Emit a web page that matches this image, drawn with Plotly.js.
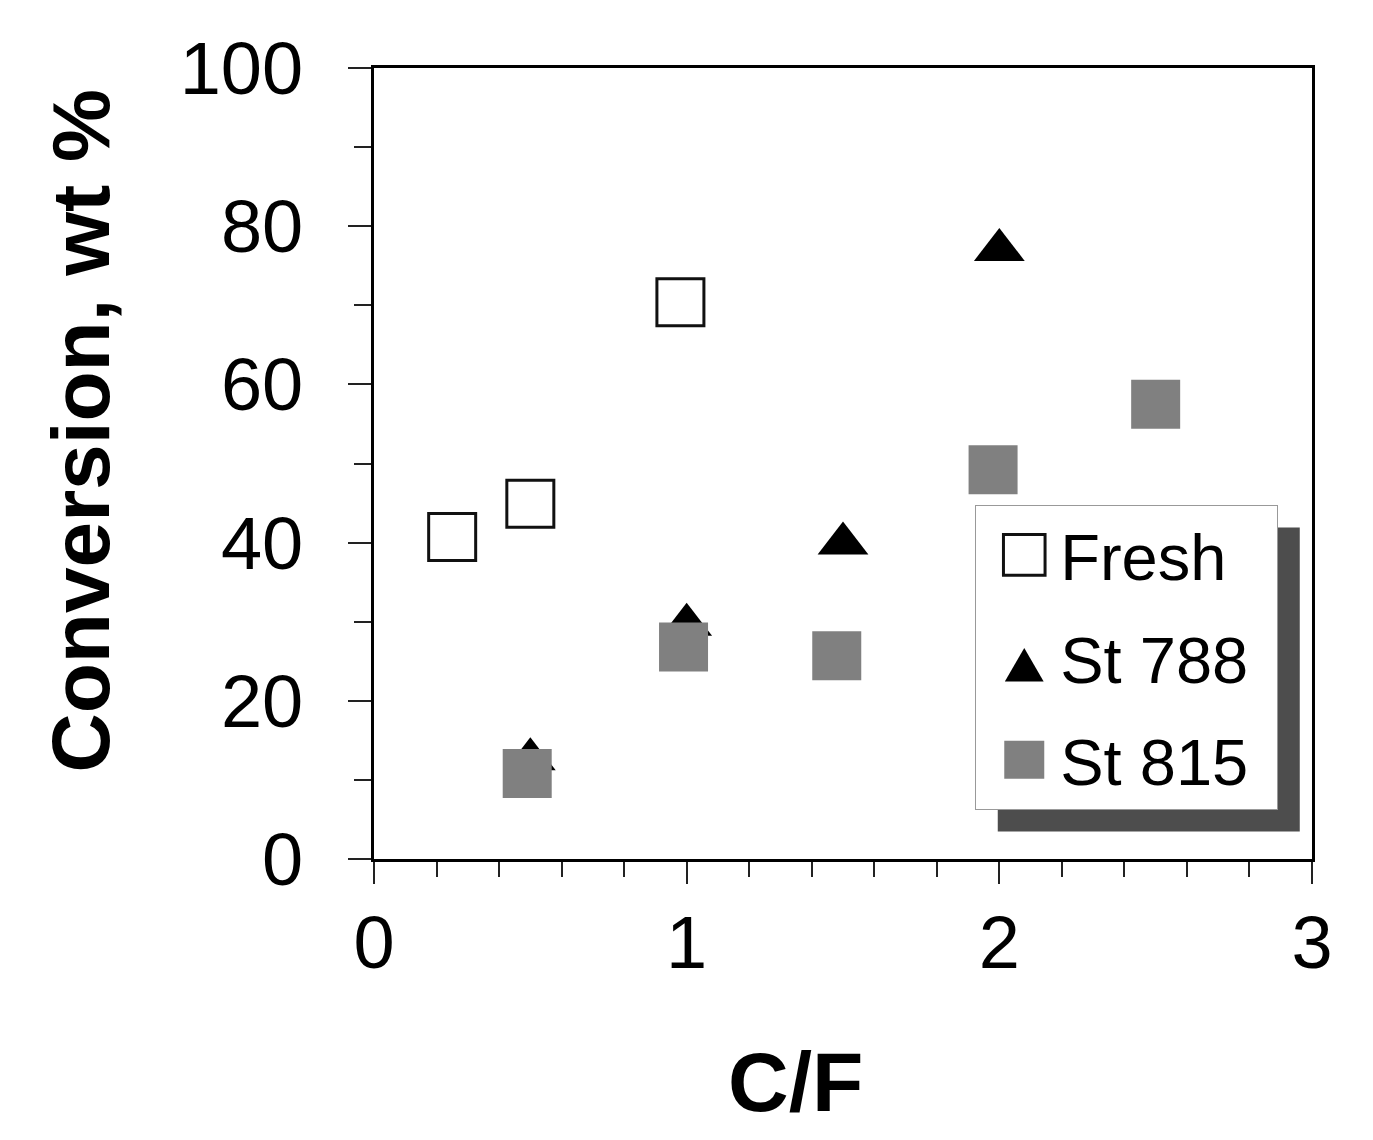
<!DOCTYPE html>
<html>
<head>
<meta charset="utf-8">
<script src="https://cdn.plot.ly/plotly-3.0.1.min.js"></script>
<style>
  html, body { margin: 0; padding: 0; background: #fff; }
  #chart { width: 1373px; height: 1140px; }
</style>
</head>
<body>
<div id="chart"></div>
<script>
// values (C/F ratio vs conversion, wt %)
const cfFresh = [0.25, 0.5, 0.98]
const convFresh = [40.7, 44.9, 70.4]

const cfSt788 = [0.5, 1.0, 1.5, 2.0]
const convSt788 = [12.6, 29.6, 39.9, 77.0]

const cfSt815 = [0.49, 0.99, 1.48, 1.98, 2.5]
const convSt815 = [10.8, 26.8, 25.7, 49.2, 57.5]

const seriesNames = ['Fresh', 'St 788', 'St 815']

const FONT = 'Liberation Sans, Arial, sans-serif'
const COLOR_GREY = '#808080'

const traces = [
  {
    x: cfFresh,
    y: convFresh,
    name: seriesNames[0],
    legendgroup: 'a',
    mode: 'markers',
    type: 'scatter',
    marker: { symbol: 'square', size: 47, color: '#fff', line: { color: '#111', width: 3 } }
  },
  {
    x: cfSt788,
    y: convSt788,
    name: seriesNames[1],
    legendgroup: 'b',
    mode: 'markers',
    type: 'scatter',
    marker: { symbol: 'triangle-up', size: 44, color: '#000' }
  },
  {
    x: cfSt815,
    y: convSt815,
    name: seriesNames[2],
    legendgroup: 'c',
    mode: 'markers',
    type: 'scatter',
    marker: { symbol: 'square', size: 49, color: COLOR_GREY }
  }
]

const axisCommon = {
  ticks: 'outside',
  tickwidth: 2,
  tickcolor: '#222',
  showline: true,
  linewidth: 3,
  linecolor: '#000',
  mirror: true,
  showgrid: false,
  zeroline: false,
  tickfont: { family: FONT, size: 74, color: '#000' }
}

const layout = {
  width: 1373,
  height: 1140,
  margin: { l: 374, r: 61, t: 68, b: 281 },
  paper_bgcolor: '#fff',
  plot_bgcolor: '#fff',
  showlegend: true,
  xaxis: Object.assign({}, axisCommon, {
    range: [0, 3],
    tick0: 0,
    dtick: 1,
    ticklen: 22,
    ticklabelstandoff: -5,
    minor: { tick0: 0, dtick: 0.2, ticks: 'outside', ticklen: 15, tickwidth: 2, tickcolor: '#222', showgrid: false }
  }),
  yaxis: Object.assign({}, axisCommon, {
    range: [0, 100],
    tick0: 0,
    dtick: 20,
    ticklen: 23,
    ticklabelstandoff: 30,
    minor: { tick0: 0, dtick: 10, ticks: 'outside', ticklen: 17, tickwidth: 2, tickcolor: '#222', showgrid: false }
  }),
  annotations: [
    {
      text: '<b>C/F</b>',
      xref: 'paper', yref: 'paper',
      x: 0.449, y: -0.282,
      xanchor: 'center', yanchor: 'middle',
      showarrow: false,
      font: { family: FONT, size: 84, color: '#000' }
    },
    {
      text: '<b>Conversion, wt %</b>',
      xref: 'paper', yref: 'paper',
      x: -0.313, y: 0.541,
      xanchor: 'center', yanchor: 'middle',
      textangle: -90,
      showarrow: false,
      font: { family: FONT, size: 82, color: '#000' }
    }
  ],
  legend: {
    x: 0.641,
    y: 0.4475,
    xanchor: 'left',
    yanchor: 'top',
    bgcolor: '#fff',
    bordercolor: '#999',
    borderwidth: 1,
    itemwidth: 74,
    tracegroupgap: 15,
    traceorder: 'grouped',
    font: { family: FONT, size: 65, color: '#000' }
  }
}

// legend symbol tweaks: [scaleX, scaleY] and [dx, dy] per entry
const symbolScale = [[2.6, 2.55], [2.1, 2.8], [2.5, 2.38]]
const symbolShift = [[6, 0], [6, 13], [6, 0]]
const legendBoxWidth = 302
const shadowOffset = 22

function styleLegend (gd) {
  const bg = gd.querySelector('.legend rect.bg')
  bg.setAttribute('width', legendBoxWidth)
  gd.querySelectorAll('.legend .traces').forEach((item, i) => {
    item.querySelectorAll('.legendpoints path.scatterpts').forEach(p => {
      const t = p.getAttribute('transform') || ''
      const s = symbolScale[i]
      const d = symbolShift[i]
      p.setAttribute('transform', t + ' translate(' + d[0] + ',' + d[1] + ') scale(' + s[0] + ',' + s[1] + ')')
      p.style.vectorEffect = 'non-scaling-stroke'
    })
  })
}

Plotly.newPlot('chart', traces, layout, { staticPlot: true, displayModeBar: false })
  .then(gd => {
    // drop shadow behind the legend box
    const bg = gd.querySelector('.legend rect.bg')
    const r = bg.getBoundingClientRect()
    const g = gd.getBoundingClientRect()
    const sz = gd._fullLayout._size
    const toX = px => (px - g.left - sz.l) / sz.w
    const toY = py => 1 - (py - g.top - sz.t) / sz.h
    return Plotly.relayout(gd, {
      shapes: [{
        type: 'rect',
        xref: 'paper',
        yref: 'paper',
        x0: toX(r.left + shadowOffset),
        x1: toX(r.left + legendBoxWidth + shadowOffset),
        y0: toY(r.top + shadowOffset),
        y1: toY(r.bottom + shadowOffset),
        fillcolor: '#4d4d4d',
        line: { width: 0 },
        layer: 'above'
      }]
    })
  })
  .then(styleLegend)
</script>
</body>
</html>
